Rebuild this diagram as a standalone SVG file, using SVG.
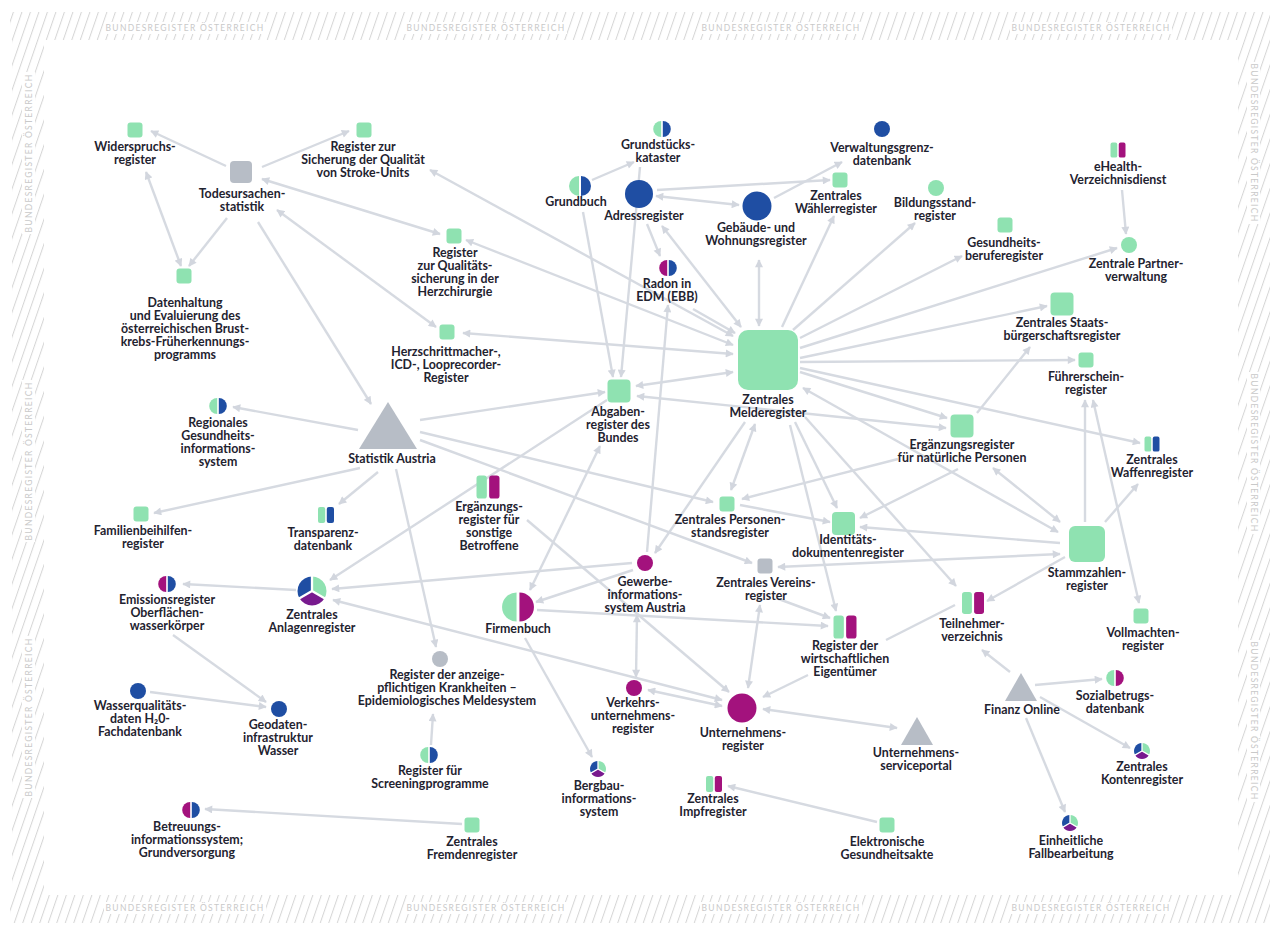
<svg xmlns="http://www.w3.org/2000/svg" width="1280" height="942" viewBox="0 0 1280 942">
<style>
.t{font-family:Lato,"Liberation Sans",sans-serif;font-weight:700;font-size:12.4px;fill:#1f2330;text-anchor:middle}
.bt{font-family:Lato,"Liberation Sans",sans-serif;font-size:8.5px;letter-spacing:1.3px;fill:#c9c9c9;text-anchor:middle}
.e line{stroke:#d6dae1;stroke-width:2.4;marker-end:url(#ah)}
.e line.b{marker-start:url(#ah)}
.e line.n{marker-end:none}
.g{fill:#8fe2b1}.bl{fill:#1f4ea3}.m{fill:#a3127d}.p{fill:#781a8e}.gr{fill:#b7bdc6}
</style>
<defs>
<marker id="ah" viewBox="0 0 10 10" refX="9" refY="5" markerWidth="9" markerHeight="8" markerUnits="userSpaceOnUse" orient="auto-start-reverse"><path d="M0,0 L10,5 L0,10 z" fill="#d2d6de"/></marker>
<pattern id="hatch" width="8.5" height="10" patternUnits="userSpaceOnUse" patternTransform="skewX(-19)"><rect x="0" y="0" width="1.1" height="10" fill="#d6d6d6"/></pattern>
<g id="hc-gb"><path class="g" d="M-1,-10 A10,10 0 0 0 -1,10 Z"/><path class="bl" d="M1,-10 A10,10 0 0 1 1,10 Z"/></g>
<g id="hc-gm"><path class="g" d="M-1,-10 A10,10 0 0 0 -1,10 Z"/><path class="m" d="M1,-10 A10,10 0 0 1 1,10 Z"/></g>
<g id="hc-mb"><path class="m" d="M-1,-10 A10,10 0 0 0 -1,10 Z"/><path class="bl" d="M1,-10 A10,10 0 0 1 1,10 Z"/></g>
<g id="hs-gm"><rect class="g" x="-10" y="-10" width="9" height="20" rx="2.5"/><rect class="m" x="1" y="-10" width="9" height="20" rx="2.5"/></g>
<g id="hs-gb"><rect class="g" x="-10" y="-10" width="9" height="20" rx="2.5"/><rect class="bl" x="1" y="-10" width="9" height="20" rx="2.5"/></g>
<g id="pie"><path class="bl" d="M0,0 L-8.66,5 A10,10 0 0 1 0,-10 Z"/><path class="g" d="M0,0 L0,-10 A10,10 0 0 1 8.66,5 Z"/><path class="p" d="M0,0 L8.66,5 A10,10 0 0 1 -8.66,5 Z"/><path d="M0,0 L0,-11 M0,0 L9.5,5.5 M0,0 L-9.5,5.5" stroke="#fff" stroke-width="1.6"/></g>
</defs>
<rect width="1280" height="942" fill="#fff"/>
<g id="frame">
<rect x="10" y="12" width="1260" height="28" fill="url(#hatch)"/>
<rect x="10" y="895" width="1260" height="28" fill="url(#hatch)"/>
<rect x="12" y="40" width="32" height="855" fill="url(#hatch)"/>
<rect x="1238" y="40" width="32" height="855" fill="url(#hatch)"/>
<g fill="#fff">
<rect x="104" y="22" width="162" height="12"/><rect x="405" y="22" width="162" height="12"/><rect x="700" y="22" width="162" height="12"/><rect x="1010" y="22" width="162" height="12"/>
<rect x="104" y="902" width="162" height="12"/><rect x="405" y="902" width="162" height="12"/><rect x="700" y="902" width="162" height="12"/><rect x="1010" y="902" width="162" height="12"/>
<rect x="22" y="72" width="13" height="162"/><rect x="22" y="380" width="13" height="162"/><rect x="22" y="636" width="13" height="162"/>
<rect x="1247" y="62" width="13" height="162"/><rect x="1247" y="372" width="13" height="162"/><rect x="1247" y="640" width="13" height="162"/>
</g>
<text class="bt" x="185" y="31">BUNDESREGISTER ÖSTERREICH</text>
<text class="bt" x="486" y="31">BUNDESREGISTER ÖSTERREICH</text>
<text class="bt" x="781" y="31">BUNDESREGISTER ÖSTERREICH</text>
<text class="bt" x="1091" y="31">BUNDESREGISTER ÖSTERREICH</text>
<text class="bt" x="185" y="911">BUNDESREGISTER ÖSTERREICH</text>
<text class="bt" x="486" y="911">BUNDESREGISTER ÖSTERREICH</text>
<text class="bt" x="781" y="911">BUNDESREGISTER ÖSTERREICH</text>
<text class="bt" x="1091" y="911">BUNDESREGISTER ÖSTERREICH</text>
<text class="bt" transform="translate(31.5,153) rotate(-90)">BUNDESREGISTER ÖSTERREICH</text>
<text class="bt" transform="translate(31.5,461) rotate(-90)">BUNDESREGISTER ÖSTERREICH</text>
<text class="bt" transform="translate(31.5,717) rotate(-90)">BUNDESREGISTER ÖSTERREICH</text>
<text class="bt" transform="translate(1250.5,143) rotate(90)">BUNDESREGISTER ÖSTERREICH</text>
<text class="bt" transform="translate(1250.5,453) rotate(90)">BUNDESREGISTER ÖSTERREICH</text>
<text class="bt" transform="translate(1250.5,721) rotate(90)">BUNDESREGISTER ÖSTERREICH</text>
</g>
<g id="connectors" class="e">
<line x1="226" y1="166" x2="151" y2="131"/>
<line x1="262" y1="167" x2="349" y2="131"/>
<line class="b" x1="262" y1="179" x2="440" y2="234"/>
<line x1="227" y1="218" x2="189" y2="266"/>
<line class="b" x1="146" y1="172" x2="181" y2="266"/>
<line class="b" x1="277" y1="210" x2="436" y2="327"/>
<line x1="258" y1="222" x2="371" y2="404"/>
<line class="b" x1="733" y1="336" x2="430" y2="170"/>
<line class="b" x1="733" y1="345" x2="466" y2="240"/>
<line class="b" x1="733" y1="354" x2="463" y2="333"/>
<line x1="693" y1="309" x2="735" y2="333"/>
<line class="b" x1="662" y1="226" x2="741" y2="327"/>
<line class="b" x1="759" y1="260" x2="759" y2="326"/>
<line x1="782" y1="327" x2="834" y2="216"/>
<line x1="793" y1="330" x2="915" y2="223"/>
<line x1="800" y1="338" x2="962" y2="256"/>
<line x1="800" y1="348" x2="1117" y2="248"/>
<line x1="800" y1="358" x2="1047" y2="306"/>
<line x1="800" y1="362" x2="1075" y2="360"/>
<line x1="800" y1="372" x2="947" y2="418"/>
<line x1="800" y1="368" x2="1140" y2="443"/>
<line class="b" x1="803" y1="388" x2="1058" y2="532"/>
<line class="b" x1="733" y1="372" x2="636" y2="386"/>
<line class="b" x1="637" y1="396" x2="946" y2="428"/>
<line class="b" x1="755" y1="424" x2="731" y2="490"/>
<line x1="745" y1="422" x2="655" y2="553"/>
<line x1="795" y1="422" x2="837" y2="508"/>
<line x1="790" y1="425" x2="836" y2="611"/>
<line x1="805" y1="417" x2="956" y2="586"/>
<line x1="358" y1="430" x2="233" y2="407"/>
<line x1="360" y1="468" x2="154" y2="513"/>
<line x1="378" y1="472" x2="339" y2="504"/>
<line x1="396" y1="469" x2="436" y2="647"/>
<line x1="420" y1="420" x2="605" y2="392"/>
<line x1="420" y1="432" x2="713" y2="502"/>
<line x1="420" y1="440" x2="752" y2="563"/>
<line x1="607" y1="400" x2="330" y2="580"/>
<line x1="632" y1="563" x2="332" y2="589"/>
<line x1="633" y1="570" x2="536" y2="602"/>
<line class="b" x1="600" y1="446" x2="530" y2="590"/>
<line x1="583" y1="212" x2="613" y2="377"/>
<line x1="640" y1="167" x2="621" y2="377"/>
<line x1="647" y1="552" x2="668" y2="305"/>
<line x1="647" y1="224" x2="660" y2="256"/>
<line class="b" x1="656" y1="196" x2="739" y2="205"/>
<line x1="657" y1="190" x2="830" y2="180"/>
<line x1="774" y1="198" x2="842" y2="162"/>
<line x1="592" y1="180" x2="634" y2="162"/>
<line x1="977" y1="413" x2="1030" y2="347"/>
<line x1="958" y1="469" x2="860" y2="518"/>
<line x1="898" y1="459" x2="742" y2="499"/>
<line class="b" x1="993" y1="468" x2="1060" y2="522"/>
<line x1="1085" y1="522" x2="1085" y2="400"/>
<line class="b" x1="1093" y1="400" x2="1139" y2="603"/>
<line x1="1105" y1="522" x2="1138" y2="484"/>
<line x1="1060" y1="543" x2="860" y2="527"/>
<line class="b" x1="1060" y1="554" x2="778" y2="567"/>
<line x1="1065" y1="557" x2="987" y2="601"/>
<line x1="740" y1="505" x2="830" y2="522"/>
<line x1="776" y1="598" x2="830" y2="618"/>
<line class="b" x1="760" y1="605" x2="748" y2="688"/>
<line x1="537" y1="610" x2="828" y2="626"/>
<line x1="525" y1="638" x2="592" y2="757"/>
<line x1="808" y1="675" x2="763" y2="697"/>
<line class="n" x1="955" y1="605" x2="886" y2="640"/>
<line x1="1010" y1="672" x2="982" y2="650"/>
<line x1="1035" y1="685" x2="1102" y2="679"/>
<line x1="1040" y1="697" x2="1130" y2="748"/>
<line x1="1026" y1="718" x2="1065" y2="812"/>
<line class="b" x1="763" y1="709" x2="897" y2="728"/>
<line class="b" x1="637" y1="615" x2="636" y2="677"/>
<line class="b" x1="648" y1="690" x2="722" y2="706"/>
<line class="b" x1="333" y1="600" x2="722" y2="700"/>
<line x1="527" y1="520" x2="729" y2="692"/>
<line x1="296" y1="590" x2="183" y2="584"/>
<line x1="173" y1="635" x2="266" y2="702"/>
<line x1="150" y1="692" x2="266" y2="707"/>
<line x1="431" y1="745" x2="433" y2="714"/>
<line x1="462" y1="824" x2="205" y2="809"/>
<line x1="877" y1="822" x2="728" y2="786"/>
<line x1="1122" y1="190" x2="1126" y2="234"/>
</g>
<g id="n-wid"><rect class="g" x="127.5" y="122.5" width="15" height="15" rx="3"/><text class="t" y="151"><tspan x="135">Widerspruchs-</tspan><tspan x="135" dy="13">register</tspan></text></g>
<g id="n-tod"><rect class="gr" x="230" y="161" width="22" height="22" rx="4"/><text class="t" y="198"><tspan x="242">Todesursachen-</tspan><tspan x="242" dy="13">statistik</tspan></text></g>
<g id="n-str"><rect class="g" x="356.5" y="122.5" width="15" height="15" rx="3"/><text class="t" y="151"><tspan x="363">Register zur</tspan><tspan x="363" dy="13">Sicherung der Qualität</tspan><tspan x="363" dy="13">von Stroke-Units</tspan></text></g>
<g id="n-dat"><rect class="g" x="176.5" y="268.5" width="15" height="15" rx="3"/><text class="t" y="307"><tspan x="185">Datenhaltung</tspan><tspan x="185" dy="13">und Evaluierung des</tspan><tspan x="185" dy="13">österreichischen Brust-</tspan><tspan x="185" dy="13">krebs-Früherkennungs-</tspan><tspan x="185" dy="13">programms</tspan></text></g>
<g id="n-hch"><rect class="g" x="446.5" y="228.5" width="15" height="15" rx="3"/><text class="t" y="257"><tspan x="455">Register</tspan><tspan x="455" dy="13">zur Qualitäts-</tspan><tspan x="455" dy="13">sicherung in der</tspan><tspan x="455" dy="13">Herzchirurgie</tspan></text></g>
<g id="n-hsm"><rect class="g" x="439.5" y="324.5" width="15" height="15" rx="3"/><text class="t" y="356"><tspan x="446">Herzschrittmacher-,</tspan><tspan x="446" dy="13">ICD-, Looprecorder-</tspan><tspan x="446" dy="13">Register</tspan></text></g>
<g id="n-kat"><use href="#hc-gb" transform="translate(662,129) scale(0.8)"/><text class="t" y="149"><tspan x="658">Grundstücks-</tspan><tspan x="658" dy="13">kataster</tspan></text></g>
<g id="n-gb"><use href="#hc-gb" transform="translate(580,186)"/><text class="t" x="576" y="206">Grundbuch</text></g>
<g id="n-adr"><circle class="bl" cx="639" cy="194" r="14"/><text class="t" x="644" y="220">Adressregister</text></g>
<g id="n-gwr"><circle class="bl" cx="757" cy="206" r="14.5"/><text class="t" y="232"><tspan x="756">Gebäude- und</tspan><tspan x="756" dy="13">Wohnungsregister</tspan></text></g>
<g id="n-rad"><use href="#hc-mb" transform="translate(668,268) scale(0.8)"/><text class="t" y="288"><tspan x="667">Radon in</tspan><tspan x="667" dy="13">EDM (EBB)</tspan></text></g>
<g id="n-zmr"><rect class="g" x="738" y="330" width="60" height="60" rx="10"/><text class="t" y="404"><tspan x="768">Zentrales</tspan><tspan x="768" dy="13">Melderegister</tspan></text></g>
<g id="n-vgd"><circle class="bl" cx="882" cy="129" r="8"/><text class="t" y="152"><tspan x="882">Verwaltungsgrenz-</tspan><tspan x="882" dy="13">datenbank</tspan></text></g>
<g id="n-wae"><rect class="g" x="832.5" y="172.5" width="15" height="15" rx="3"/><text class="t" y="200"><tspan x="836">Zentrales</tspan><tspan x="836" dy="13">Wählerregister</tspan></text></g>
<g id="n-bil"><circle class="g" cx="936" cy="188" r="8"/><text class="t" y="207"><tspan x="935">Bildungsstand-</tspan><tspan x="935" dy="13">register</tspan></text></g>
<g id="n-ges"><rect class="g" x="997.5" y="217.5" width="15" height="15" rx="3"/><text class="t" y="247"><tspan x="1004">Gesundheits-</tspan><tspan x="1004" dy="13">beruferegister</tspan></text></g>
<g id="n-ehe"><use href="#hs-gm" transform="translate(1118,150) scale(0.75)"/><text class="t" y="171"><tspan x="1118">eHealth-</tspan><tspan x="1118" dy="13">Verzeichnisdienst</tspan></text></g>
<g id="n-zpv"><circle class="g" cx="1129" cy="245" r="8"/><text class="t" y="268"><tspan x="1136">Zentrale Partner-</tspan><tspan x="1136" dy="13">verwaltung</tspan></text></g>
<g id="n-zsr"><rect class="g" x="1050.5" y="292.5" width="23" height="23" rx="4"/><text class="t" y="327"><tspan x="1062">Zentrales Staats-</tspan><tspan x="1062" dy="13">bürgerschaftsregister</tspan></text></g>
<g id="n-fue"><rect class="g" x="1078.5" y="352.5" width="15" height="15" rx="3"/><text class="t" y="381"><tspan x="1086">Führerschein-</tspan><tspan x="1086" dy="13">register</tspan></text></g>
<g id="n-enp"><rect class="g" x="950.5" y="414.5" width="23" height="23" rx="4"/><text class="t" y="449"><tspan x="962">Ergänzungsregister</tspan><tspan x="962" dy="13">für natürliche Personen</tspan></text></g>
<g id="n-waf"><use href="#hs-gb" transform="translate(1152,444) scale(0.75)"/><text class="t" y="464"><tspan x="1152">Zentrales</tspan><tspan x="1152" dy="13">Waffenregister</tspan></text></g>
<g id="n-szr"><rect class="g" x="1069" y="526" width="36" height="36" rx="6"/><text class="t" y="577"><tspan x="1087">Stammzahlen-</tspan><tspan x="1087" dy="13">register</tspan></text></g>
<g id="n-tln"><use href="#hs-gm" transform="translate(973,603) scale(1.1)"/><text class="t" y="628"><tspan x="972">Teilnehmer-</tspan><tspan x="972" dy="13">verzeichnis</tspan></text></g>
<g id="n-vol"><rect class="g" x="1133.5" y="608.5" width="15" height="15" rx="3"/><text class="t" y="637"><tspan x="1143">Vollmachten-</tspan><tspan x="1143" dy="13">register</tspan></text></g>
<g id="n-rgi"><use href="#hc-gb" transform="translate(218,406) scale(0.8)"/><text class="t" y="427"><tspan x="218">Regionales</tspan><tspan x="218" dy="13">Gesundheits-</tspan><tspan x="218" dy="13">informations-</tspan><tspan x="218" dy="13">system</tspan></text></g>
<g id="n-sta"><path class="gr" d="M388,402 L417,449 L359,449 Z"/><text class="t" x="392" y="463">Statistik Austria</text></g>
<g id="n-fam"><rect class="g" x="133.5" y="506.5" width="15" height="15" rx="3"/><text class="t" y="535"><tspan x="143">Familienbeihilfen-</tspan><tspan x="143" dy="13">register</tspan></text></g>
<g id="n-tra"><use href="#hs-gb" transform="translate(326,515) scale(0.8)"/><text class="t" y="537"><tspan x="323">Transparenz-</tspan><tspan x="323" dy="13">datenbank</tspan></text></g>
<g id="n-emi"><use href="#hc-mb" transform="translate(167,584) scale(0.8)"/><text class="t" y="604"><tspan x="167">Emissionsregister</tspan><tspan x="167" dy="13">Oberflächen-</tspan><tspan x="167" dy="13">wasserkörper</tspan></text></g>
<g id="n-anl"><use href="#pie" transform="translate(312,591) scale(1.45)"/><text class="t" y="619"><tspan x="312">Zentrales</tspan><tspan x="312" dy="13">Anlagenregister</tspan></text></g>
<g id="n-ers"><use href="#hs-gm" transform="translate(488,487) scale(1.15)"/><text class="t" y="511"><tspan x="489">Ergänzungs-</tspan><tspan x="489" dy="13">register für</tspan><tspan x="489" dy="13">sonstige</tspan><tspan x="489" dy="13">Betroffene</tspan></text></g>
<g id="n-abg"><rect class="g" x="607.5" y="379.5" width="23" height="23" rx="4"/><text class="t" y="416"><tspan x="618">Abgaben-</tspan><tspan x="618" dy="13">register des</tspan><tspan x="618" dy="13">Bundes</tspan></text></g>
<g id="n-zpr"><rect class="g" x="719.5" y="496.5" width="15" height="15" rx="3"/><text class="t" y="524"><tspan x="730">Zentrales Personen-</tspan><tspan x="730" dy="13">standsregister</tspan></text></g>
<g id="n-idd"><rect class="g" x="832" y="512" width="23" height="23" rx="4"/><text class="t" y="544"><tspan x="848">Identitäts-</tspan><tspan x="848" dy="13">dokumentenregister</tspan></text></g>
<g id="n-gew"><circle class="m" cx="645" cy="563" r="8"/><text class="t" y="586"><tspan x="645">Gewerbe-</tspan><tspan x="645" dy="13">informations-</tspan><tspan x="645" dy="13">system Austria</tspan></text></g>
<g id="n-ver"><rect class="gr" x="757.5" y="558.5" width="15" height="15" rx="3"/><text class="t" y="587"><tspan x="766">Zentrales Vereins-</tspan><tspan x="766" dy="13">register</tspan></text></g>
<g id="n-fb"><use href="#hc-gm" transform="translate(518,607) scale(1.45)"/><text class="t" x="518" y="633">Firmenbuch</text></g>
<g id="n-rwe"><use href="#hs-gm" transform="translate(845,627) scale(1.15)"/><text class="t" y="650"><tspan x="845">Register der</tspan><tspan x="845" dy="13">wirtschaftlichen</tspan><tspan x="845" dy="13">Eigentümer</tspan></text></g>
<g id="n-vku"><circle class="m" cx="634" cy="688" r="8"/><text class="t" y="707"><tspan x="633">Verkehrs-</tspan><tspan x="633" dy="13">unternehmens-</tspan><tspan x="633" dy="13">register</tspan></text></g>
<g id="n-ur"><circle class="m" cx="742" cy="708" r="14.5"/><text class="t" y="737"><tspan x="743">Unternehmens-</tspan><tspan x="743" dy="13">register</tspan></text></g>
<g id="n-usp"><path class="gr" d="M917,717 L933,745 L901,745 Z"/><text class="t" y="757"><tspan x="916">Unternehmens-</tspan><tspan x="916" dy="13">serviceportal</tspan></text></g>
<g id="n-fin"><path class="gr" d="M1021,673 L1037,701 L1005,701 Z"/><text class="t" x="1022" y="714">Finanz Online</text></g>
<g id="n-soz"><use href="#hc-gm" transform="translate(1115,678) scale(0.8)"/><text class="t" y="700"><tspan x="1115">Sozialbetrugs-</tspan><tspan x="1115" dy="13">datenbank</tspan></text></g>
<g id="n-kon"><use href="#pie" transform="translate(1142,751) scale(0.8)"/><text class="t" y="771"><tspan x="1142">Zentrales</tspan><tspan x="1142" dy="13">Kontenregister</tspan></text></g>
<g id="n-efb"><use href="#pie" transform="translate(1070,823) scale(0.8)"/><text class="t" y="845"><tspan x="1071">Einheitliche</tspan><tspan x="1071" dy="13">Fallbearbeitung</tspan></text></g>
<g id="n-epi"><circle class="gr" cx="440" cy="659" r="8"/><text class="t" y="679"><tspan x="447">Register der anzeige-</tspan><tspan x="447" dy="13">pflichtigen Krankheiten –</tspan><tspan x="447" dy="13">Epidemiologisches Meldesystem</tspan></text></g>
<g id="n-scr"><use href="#hc-gb" transform="translate(429,755) scale(0.8)"/><text class="t" y="775"><tspan x="430">Register für</tspan><tspan x="430" dy="13">Screeningprogramme</tspan></text></g>
<g id="n-was"><circle class="bl" cx="138" cy="691" r="8"/><text class="t" y="710"><tspan x="140">Wasserqualitäts-</tspan><tspan x="140" dy="13">daten H₂0-</tspan><tspan x="140" dy="13">Fachdatenbank</tspan></text></g>
<g id="n-geo"><circle class="bl" cx="279" cy="709" r="8"/><text class="t" y="729"><tspan x="278">Geodaten-</tspan><tspan x="278" dy="13">infrastruktur</tspan><tspan x="278" dy="13">Wasser</tspan></text></g>
<g id="n-bet"><use href="#hc-mb" transform="translate(191,810) scale(0.8)"/><text class="t" y="831"><tspan x="187">Betreuungs-</tspan><tspan x="187" dy="13">informationssystem;</tspan><tspan x="187" dy="13">Grundversorgung</tspan></text></g>
<g id="n-fre"><rect class="g" x="464.5" y="817.5" width="15" height="15" rx="3"/><text class="t" y="846"><tspan x="472">Zentrales</tspan><tspan x="472" dy="13">Fremdenregister</tspan></text></g>
<g id="n-brg"><use href="#pie" transform="translate(598,769) scale(0.8)"/><text class="t" y="790"><tspan x="599">Bergbau-</tspan><tspan x="599" dy="13">informations-</tspan><tspan x="599" dy="13">system</tspan></text></g>
<g id="n-imp"><use href="#hs-gm" transform="translate(714,784) scale(0.8)"/><text class="t" y="803"><tspan x="713">Zentrales</tspan><tspan x="713" dy="13">Impfregister</tspan></text></g>
<g id="n-ega"><rect class="g" x="879.5" y="817.5" width="15" height="15" rx="3"/><text class="t" y="846"><tspan x="887">Elektronische</tspan><tspan x="887" dy="13">Gesundheitsakte</tspan></text></g>
</svg>
